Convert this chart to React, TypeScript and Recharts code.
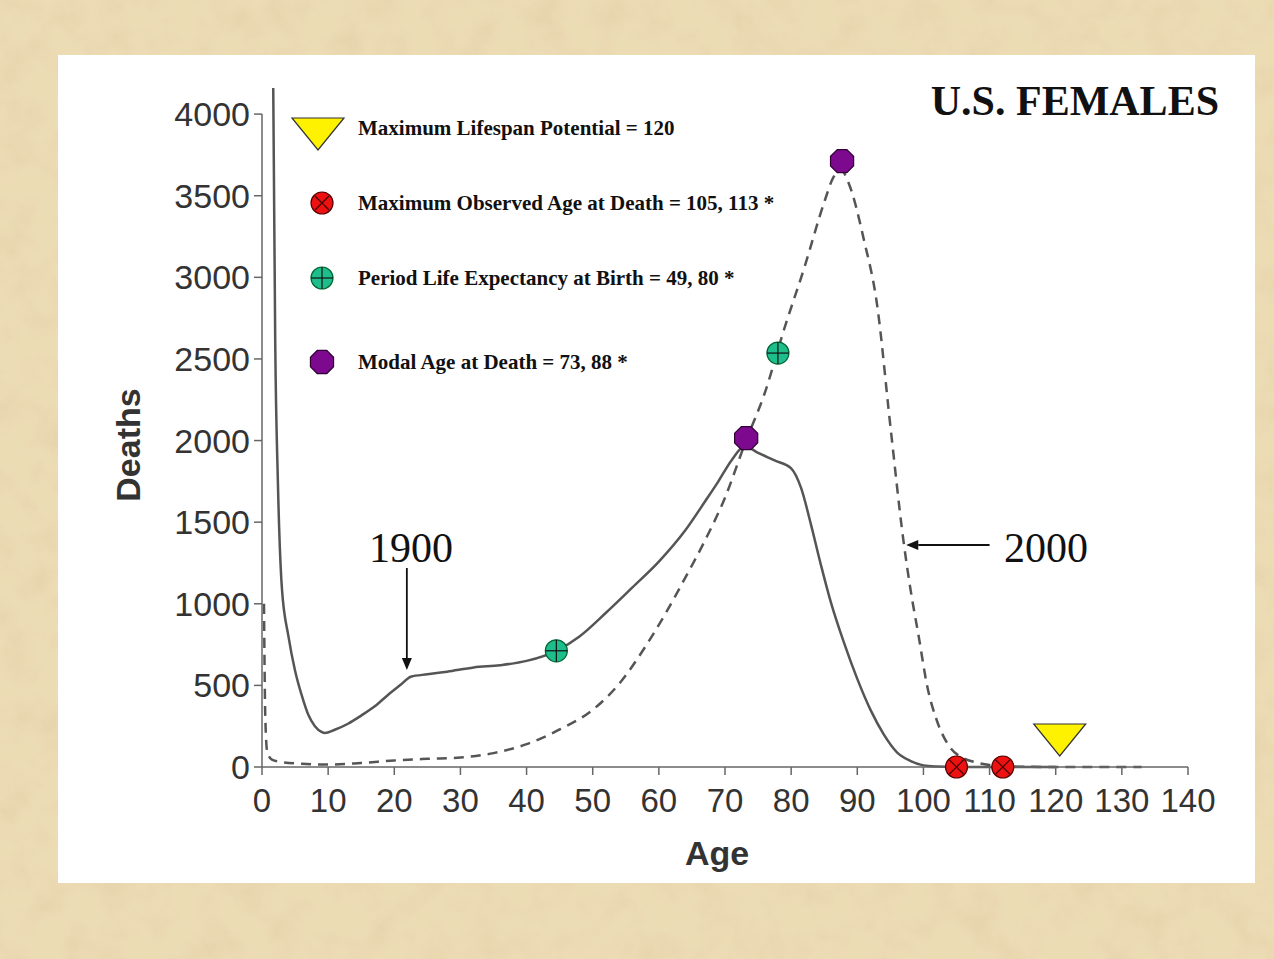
import React from 'react';
import {
  ComposedChart,
  Line,
  Scatter,
  XAxis,
  YAxis,
  ReferenceLine,
} from 'recharts';

// 1900 death curve (solid)
const ages1900 = [1.7, 2.0, 2.4, 3, 4, 5, 6, 7, 8, 9, 9.5, 11, 13, 15, 17, 19, 21, 22.5, 25, 28, 32, 36, 40, 44.5, 48, 52, 56, 60, 64, 67, 69, 71, 73, 75, 77.5, 80, 81.5, 83, 84.5, 86, 88, 90, 92, 94, 96, 98, 100, 102, 105, 120];
const deaths1900 = [4160, 2600, 1750, 1100, 800, 590, 440, 320, 250, 215, 208, 228, 265, 315, 370, 440, 505, 553, 568, 584, 610, 624, 650, 712, 800, 945, 1100, 1258, 1450, 1628, 1750, 1880, 1965, 1925, 1878, 1830, 1710, 1485, 1238, 1010, 760, 540, 350, 200, 90, 38, 10, 3, 0, 0];

// 2000 death curve (dashed)
const ages2000 = [0.3, 0.5, 0.8, 1.5, 3, 6, 10, 15, 20, 25, 30, 35, 40, 45, 50, 54, 58, 61, 64, 67, 70, 73, 76, 79, 82, 85, 86.4, 87.5, 88.7, 91, 93, 95, 97, 98, 99.3, 100.6, 102, 104, 106, 108, 110, 113, 120, 133];
const deaths2000 = [1000, 300, 90, 45, 30, 20, 15, 25, 40, 50, 58, 85, 140, 230, 350, 510, 740, 940, 1160, 1390, 1650, 1980, 2290, 2690, 3060, 3460, 3614, 3660, 3577, 3230, 2830, 2090, 1380, 1100, 796, 490, 288, 122, 55, 28, 12, 3, 0, 0];

// markers
const lifespanAges = [120];
const lifespanDeaths = [0];
const maxObservedAges = [105, 112];
const maxObservedDeaths = [0, 0];
const lifeExpAges = [44.5, 78];
const lifeExpDeaths = [712, 2536];
const modalAges = [73.2, 87.7];
const modalDeaths = [2015, 3712];

const xTicks = [0, 10, 20, 30, 40, 50, 60, 70, 80, 90, 100, 110, 120, 130, 140];
const yTicks = [0, 500, 1000, 1500, 2000, 2500, 3000, 3500, 4000];

const legendLabels = [
  'Maximum Lifespan Potential = 120',
  'Maximum Observed Age at Death = 105, 113 *',
  'Period Life Expectancy at Birth = 49, 80 *',
  'Modal Age at Death = 73, 88 *',
];

const zip = (xs: number[], ys: number[]) => xs.map((age, i) => ({ age, deaths: ys[i] }));

const line1900 = zip(ages1900, deaths1900);
const line2000 = zip(ages2000, deaths2000);

const sansFont = '"Liberation Sans", Arial, Helvetica, sans-serif';
const serifFont = '"Liberation Serif", "Times New Roman", serif';

const Triangle = ({ cx, cy }: { cx: number; cy: number }) => (
  <polygon
    points={`${cx - 26},${cy - 16} ${cx + 26},${cy - 16} ${cx},${cy + 16}`}
    fill="#FFF200"
    stroke="#333"
    strokeWidth={1.2}
  />
);

const CrossCircle = ({ cx, cy }: { cx: number; cy: number }) => (
  <g>
    <circle cx={cx} cy={cy} r={11} fill="#EE1111" stroke="#500" strokeWidth={1.2} />
    <line x1={cx - 7} y1={cy - 7} x2={cx + 7} y2={cy + 7} stroke="#400" strokeWidth={1.2} />
    <line x1={cx - 7} y1={cy + 7} x2={cx + 7} y2={cy - 7} stroke="#400" strokeWidth={1.2} />
  </g>
);

const PlusCircle = ({ cx, cy }: { cx: number; cy: number }) => (
  <g>
    <circle cx={cx} cy={cy} r={11} fill="#1EBE8C" stroke="#063" strokeWidth={1.2} />
    <line x1={cx - 11} y1={cy} x2={cx + 11} y2={cy} stroke="#111" strokeWidth={1.2} />
    <line x1={cx} y1={cy - 11} x2={cx} y2={cy + 11} stroke="#111" strokeWidth={1.2} />
  </g>
);

const Octagon = ({ cx, cy }: { cx: number; cy: number }) => {
  const r = 12.5;
  const pts = Array.from({ length: 8 }, (_, i) => {
    const a = (Math.PI / 8) * (2 * i + 1);
    return `${cx + r * Math.cos(a)},${cy + r * Math.sin(a)}`;
  }).join(' ');
  return <polygon points={pts} fill="#7D0A8E" stroke="#300035" strokeWidth={1.2} />;
};

const Arrow = (props: any) => {
  const { x1, y1, x2, y2 } = props;
  const ang = Math.atan2(y2 - y1, x2 - x1);
  const len = 12;
  const w = 5;
  const bx = x2 - len * Math.cos(ang);
  const by = y2 - len * Math.sin(ang);
  const px = -Math.sin(ang) * w;
  const py = Math.cos(ang) * w;
  return (
    <g>
      <line x1={x1} y1={y1} x2={bx} y2={by} stroke="#111" strokeWidth={1.8} />
      <polygon points={`${x2},${y2} ${bx + px},${by + py} ${bx - px},${by - py}`} fill="#111" />
    </g>
  );
};

const Background = () => (
  <svg width={1274} height={959} style={{ position: 'absolute', left: 0, top: 0 }}>
    <defs>
      <filter id="paper" x="0" y="0" width="100%" height="100%">
        <feTurbulence type="fractalNoise" baseFrequency="0.03" numOctaves={4} seed={7} />
        <feColorMatrix
          type="matrix"
          values="0 0 0 0 0.80  0 0 0 0 0.66  0 0 0 0 0.42  2.6 0 0 0 -1.05"
        />
      </filter>
    </defs>
    <rect x={0} y={0} width={1274} height={959} fill="#ECDCB4" />
    <rect x={0} y={0} width={1274} height={959} filter="url(#paper)" opacity={0.85} />
    <rect x={58} y={55} width={1197} height={828} fill="#FFFFFF" />
  </svg>
);

const Overlay = () => {
  const rows = [128, 203, 278, 362];
  const icons = [Triangle, CrossCircle, PlusCircle, Octagon];
  return (
    <svg width={1274} height={959} style={{ position: 'absolute', left: 0, top: 0, pointerEvents: 'none' }}>
      {legendLabels.map((label, i) => {
        const Icon = icons[i];
        return (
          <g key={label}>
            <Icon cx={i === 0 ? 318 : 322} cy={i === 0 ? 134 : rows[i]} />
            <text
              x={358}
              y={rows[i]}
              dy="0.35em"
              fontFamily={serifFont}
              fontWeight="bold"
              fontSize={21}
              fill="#111"
            >
              {label}
            </text>
          </g>
        );
      })}
      <text x={1219} y={115} textAnchor="end" fontFamily={serifFont} fontWeight="bold" fontSize={42} fill="#111">
        U.S. FEMALES
      </text>
      <text x={411} y={562} textAnchor="middle" fontFamily={serifFont} fontSize={42} fill="#111">
        1900
      </text>
      <text x={1046} y={562} textAnchor="middle" fontFamily={serifFont} fontSize={42} fill="#111">
        2000
      </text>
      <text
        x={140}
        y={445}
        transform="rotate(-90 140 445)"
        textAnchor="middle"
        fontFamily={sansFont}
        fontWeight="bold"
        fontSize={34}
        fill="#333"
      >
        Deaths
      </text>
      <text x={717} y={865} textAnchor="middle" fontFamily={sansFont} fontWeight="bold" fontSize={34} fill="#333">
        Age
      </text>
    </svg>
  );
};

export default function App() {
  return (
    <div style={{ position: 'absolute', left: 0, top: 0, width: 1274, height: 959 }}>
      <Background />
      <div style={{ position: 'absolute', left: 0, top: 0 }}>
        <ComposedChart width={1274} height={959} margin={{ top: 88, right: 86, bottom: 0, left: 0 }}>
          <XAxis
            type="number"
            dataKey="age"
            domain={[0, 140]}
            ticks={xTicks}
            interval={0}
            height={192}
            tickSize={8}
            tickMargin={14}
            stroke="#666"
            strokeWidth={1.5}
            tick={{ fill: '#333', fontSize: 33, fontFamily: sansFont }}
          />
          <YAxis
            type="number"
            dataKey="deaths"
            domain={[0, 4160]}
            ticks={yTicks}
            interval={0}
            width={262}
            tickSize={8}
            tickMargin={4}
            axisLine={false}
            stroke="#666"
            strokeWidth={1.5}
            tick={{ fill: '#333', fontSize: 34, fontFamily: sansFont }}
          />
          <ReferenceLine
            segment={[{ x: 0, y: 0 }, { x: 0, y: 4000 }]}
            stroke="#666"
            strokeWidth={1.5}
          />
          <Line
            data={line1900}
            dataKey="deaths"
            type="monotone"
            stroke="#555"
            strokeWidth={2.5}
            dot={false}
            isAnimationActive={false}
          />
          <Line
            data={line2000}
            dataKey="deaths"
            type="monotone"
            stroke="#555"
            strokeWidth={2.5}
            strokeDasharray="10 7"
            dot={false}
            isAnimationActive={false}
          />
          <ReferenceLine
            segment={[{ x: 21.9, y: 1219 }, { x: 21.9, y: 594 }]}
            shape={Arrow}
          />
          <ReferenceLine
            segment={[{ x: 110, y: 1360 }, { x: 97.4, y: 1360 }]}
            shape={Arrow}
          />
          <Scatter
            data={zip(lifespanAges, lifespanDeaths)}
            dataKey="deaths"
            isAnimationActive={false}
            shape={(p: any) => <Triangle cx={p.cx + 4} cy={p.cy - 27} />}
          />
          <Scatter
            data={zip(maxObservedAges, maxObservedDeaths)}
            dataKey="deaths"
            isAnimationActive={false}
            shape={(p: any) => <CrossCircle cx={p.cx} cy={p.cy} />}
          />
          <Scatter
            data={zip(lifeExpAges, lifeExpDeaths)}
            dataKey="deaths"
            isAnimationActive={false}
            shape={(p: any) => <PlusCircle cx={p.cx} cy={p.cy} />}
          />
          <Scatter
            data={zip(modalAges, modalDeaths)}
            dataKey="deaths"
            isAnimationActive={false}
            shape={(p: any) => <Octagon cx={p.cx} cy={p.cy} />}
          />
        </ComposedChart>
      </div>
      <Overlay />
    </div>
  );
}
